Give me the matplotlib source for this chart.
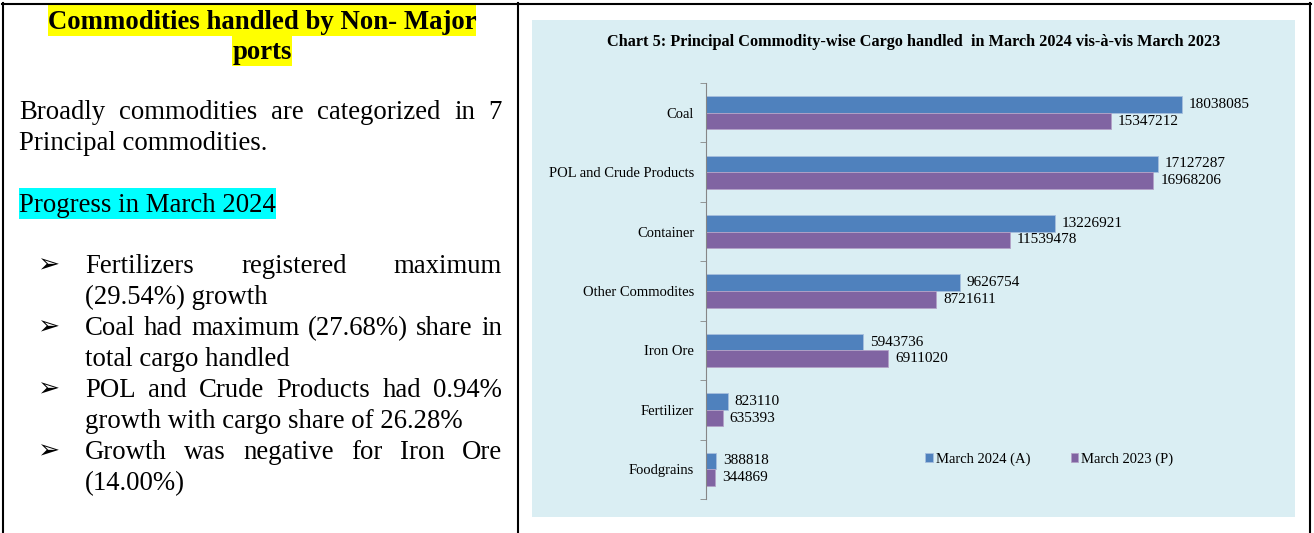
import numpy as np
import matplotlib.pyplot as plt
from matplotlib.patches import Rectangle
from matplotlib.lines import Line2D

W, H = 1314, 533
serif = 'Liberation Serif'

# chart data
categories = ['Coal', 'POL and Crude Products', 'Container', 'Other Commodites',
              'Iron Ore', 'Fertilizer', 'Foodgrains']
march_2024 = [18038085, 17127287, 13226921, 9626754, 5943736, 823110, 388818]
march_2023 = [15347212, 16968206, 11539478, 8721611, 6911020, 635393, 344869]
series_names = ['March 2024 (A)', 'March 2023 (P)']

blue = '#4F81BD'
purple = '#8064A2'
panel_bg = '#DAEEF3'

fig = plt.figure(figsize=(W / 100, H / 100), dpi=100)
renderer = fig.canvas.get_renderer()


def fx(x):
    return x / W


def fy(y):
    return 1 - y / H


def put(x, yb, s, size=19.3, weight='normal', ha='left'):
    return fig.text(fx(x), fy(yb), s, fontsize=size, family=serif,
                    fontweight=weight, ha=ha, va='baseline', zorder=3)


def justify(line, x0, x1, yb, size=19.3):
    words = line.split()
    objs = [put(0, yb, w, size) for w in words]
    widths = [o.get_window_extent(renderer).width for o in objs]
    gap = (x1 - x0 - sum(widths)) / (len(words) - 1)
    x = x0
    for o, w in zip(objs, widths):
        o.set_x(fx(x))
        x += w + gap


def highlight(t, yb, color):
    bb = t.get_window_extent(renderer)
    fig.patches.append(Rectangle((fx(bb.x0), fy(yb + 7)), bb.width / W, 31 / H,
                                 transform=fig.transFigure, facecolor=color,
                                 edgecolor='none', zorder=1))


# table borders
for xs, ys in [((2, 1311), (3.5, 3.5)), ((3, 3), (3, 533)),
               ((518, 518), (3, 533)), ((1310, 1310), (3, 533))]:
    fig.add_artist(Line2D([fx(v) for v in xs], [fy(v) for v in ys],
                          color='black', lw=1.5, transform=fig.transFigure))

# left panel text
t1 = put(262, 29, 'Commodities handled by Non- Major', weight='bold', ha='center')
t2 = put(262, 59, 'ports', weight='bold', ha='center')
highlight(t1, 29, '#FFFF00')
highlight(t2, 59, '#FFFF00')

justify('Broadly commodities are categorized in 7', 19, 502, 119)
put(19, 150, 'Principal commodities.')
t3 = put(19, 212, 'Progress in March 2024')
highlight(t3, 212, '#00FFFF')

bullets = [
    ('Fertilizers registered maximum', '(29.54%) growth'),
    ('Coal had maximum (27.68%) share in', 'total cargo handled'),
    ('POL and Crude Products had 0.94%', 'growth with cargo share of 26.28%'),
    ('Growth was negative for Iron Ore', '(14.00%)'),
]
yb = 273
for first, second in bullets:
    fig.text(fx(37), fy(yb - 1), '\u27A2', fontsize=19, family='DejaVu Sans',
             va='baseline', ha='left')
    justify(first, 85, 502, yb)
    put(85, yb + 31, second)
    yb += 62

# chart panel
fig.patches.append(Rectangle((fx(532), fy(517)), (1295 - 532) / W, (517 - 20) / H,
                             transform=fig.transFigure, facecolor=panel_bg,
                             edgecolor='none', zorder=-1))
fig.text(fx(914), fy(42), 'Chart 5: Principal Commodity-wise Cargo handled  in March 2024 vis-\u00e0-vis March 2023',
         fontsize=11.7, family=serif, fontweight='bold', ha='center', va='center')

ax = fig.add_axes([fx(706), fy(499), (1286 - 706) / W, (499 - 83) / H])
ax.set_facecolor('none')
y = np.arange(len(categories))
h = 0.28
b1 = ax.barh(y - h / 2, march_2024, height=h, color=blue, edgecolor='#A7BFDE',
             linewidth=0.6, label=series_names[0])
b2 = ax.barh(y + h / 2, march_2023, height=h, color=purple, edgecolor='#B3A2C7',
             linewidth=0.6, label=series_names[1])
for bars, vals in [(b1, march_2024), (b2, march_2023)]:
    for bar, v in zip(bars, vals):
        ax.annotate(str(v), (v, bar.get_y() + bar.get_height() / 2),
                    xytext=(5, 0), textcoords='offset points', va='center',
                    ha='left', fontsize=11, family=serif)

ax.set_ylim(len(categories) - 0.5, -0.5)
ax.set_xlim(0, 22000000)
for s in ['top', 'right', 'bottom']:
    ax.spines[s].set_visible(False)
ax.spines['left'].set_color('#868686')
ax.set_xticks([])
ax.set_yticks(y)
ax.set_yticklabels(categories, fontsize=10.5, family=serif)
ax.tick_params(axis='y', which='major', length=0, pad=8.5)
ax.set_yticks(np.arange(-0.5, len(categories)), minor=True)
ax.tick_params(axis='y', which='minor', length=4, color='#868686')

ax.legend(handles=[b1, b2], labels=series_names, ncol=2, frameon=False,
          prop={'family': serif, 'size': 10.5}, handlelength=0.5,
          handleheight=0.5, handletextpad=0.2, columnspacing=2.8,
          loc='center left', bbox_to_anchor=(fx(918), fy(459)),
          bbox_transform=fig.transFigure, borderpad=0)

fig.savefig('out.png', dpi=100)
